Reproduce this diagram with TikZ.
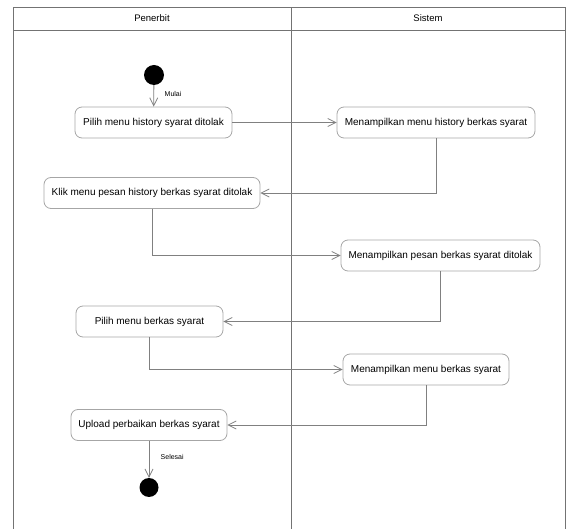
\documentclass[tikz,border=0pt]{standalone}
\usepackage{fontspec}
\setmainfont{Liberation Sans}
\usetikzlibrary{arrows.meta}

\begin{document}
\begin{tikzpicture}[x=1pt,y=-1pt]

\tikzset{LaneStyle/.style   = {draw=black!55, line width=0.8pt},
         TitleStyle/.style  = {font=\fontsize{9.5}{11}\selectfont},
         ActionStyle/.style = {draw=black!35, line width=0.8pt,
                               rounded corners=7pt, minimum height=31pt,
                               inner sep=0pt,
                               font=\fontsize{10}{12}\selectfont},
         DotStyle/.style    = {circle, fill=black, inner sep=0pt,
                               minimum size=20pt},
         EdgeStyle/.style   = {draw=black!50, line width=0.8pt,
                               -{Straight Barb[length=8pt,width=8pt]}},
         GuardStyle/.style  = {font=\fontsize{7}{8}\selectfont,
                               anchor=west, inner sep=0pt}}

  \useasboundingbox (0,0) rectangle (571,529);

%%% swimlanes : Penerbit | Sistem
  \draw[LaneStyle] (13,529) -- (13,7.5) -- (565,7.5) -- (565,529);
  \draw[LaneStyle] (291.5,7.5) -- (291.5,529);
  \draw[LaneStyle] (13,30.5) -- (565,30.5);
  \node[TitleStyle] (Penerbit) at (152,18.5) {Penerbit};
  \node[TitleStyle] (Sistem)   at (428,18.5) {Sistem};

%%% actions
  \node[DotStyle] (Start) at (154,75) {};
  \node[ActionStyle, minimum width=157pt] (A1) at (153.5,122.5) {Pilih menu history syarat ditolak};
  \node[ActionStyle, minimum width=198pt] (B1) at (436,122.5)   {Menampilkan menu history berkas syarat};
  \node[ActionStyle, minimum width=216pt] (A2) at (152,193)     {Klik menu pesan history berkas syarat ditolak};
  \node[ActionStyle, minimum width=199pt] (B2) at (440.5,255.5) {Menampilkan pesan berkas syarat ditolak};
  \node[ActionStyle, minimum width=147pt] (A3) at (149.5,321.5) {Pilih menu berkas syarat};
  \node[ActionStyle, minimum width=166pt] (B3) at (426,369.5)   {Menampilkan menu berkas syarat};
  \node[ActionStyle, minimum width=156pt] (A4) at (149,425)     {Upload perbaikan berkas syarat};
  \node[DotStyle, minimum size=19pt] (End) at (149,487.5) {};

%%% flow
  \draw[EdgeStyle] (Start) -- (A1);
  \node[GuardStyle] (Mulai) at (164.5,94) {Mulai};
  \draw[EdgeStyle] (A1) -- (B1);
  \draw[EdgeStyle] (B1.south) |- (A2.east);
  \draw[EdgeStyle] (A2.south) |- (B2.west);
  \draw[EdgeStyle] (B2.south) |- (A3.east);
  \draw[EdgeStyle] (A3.south) |- (B3.west);
  \draw[EdgeStyle] (B3.south) |- (A4.east);
  \draw[EdgeStyle] (A4) -- (End);
  \node[GuardStyle] (Selesai) at (160.5,457) {Selesai};

\end{tikzpicture}
\end{document}
